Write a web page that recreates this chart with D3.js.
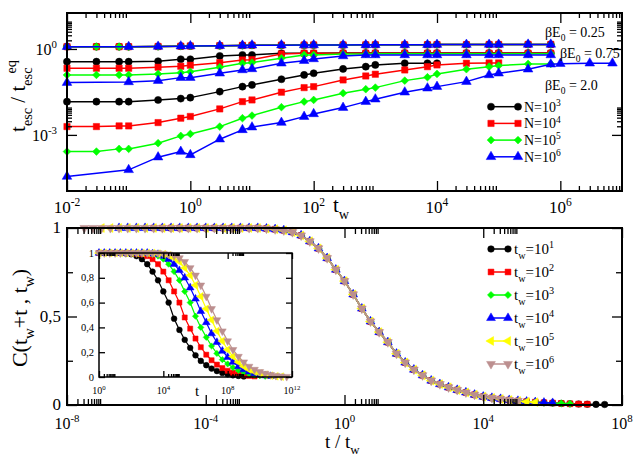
<!DOCTYPE html>
<html>
<head>
<meta charset="utf-8">
<script src="https://cdn.jsdelivr.net/npm/d3@7"></script>
<style>
  body { margin: 0; background: #fff; }
  svg { display: block; }
</style>
</head>
<body>
<svg id="chart" width="638" height="459"></svg>
<script>
// ---------- top panel: t_esc / t_esc^eq against t_w ----------
const twValues = [0.01, 0.03, 0.07, 0.1, 0.3, 0.7, 1, 3, 7, 10, 30, 70, 100, 300, 700,
  1e3, 3e3, 7e3, 1e4, 3e4, 7e4, 1e5, 3e5, 7e5, 1e6, 3e6, 7e6];

// betaE0 = 0.25
const esc025_N3 = [1.2, 1.2, 1.2, 1.2, 1.22, 1.25, 1.27, 1.3, 1.33, 1.35, 1.36, 1.37, 1.38, 1.38, 1.39, 1.4, 1.4, 1.41, 1.42, 1.42, 1.43, 1.43, 1.44, 1.44];
const esc025_N4 = [1.2, 1.2, 1.2, 1.2, 1.22, 1.25, 1.27, 1.3, 1.33, 1.35, 1.36, 1.37, 1.38, 1.38, 1.39, 1.4, 1.4, 1.41, 1.42, 1.42, 1.43, 1.43, 1.44, 1.44];
const esc025_N5 = [1.2, 1.2, 1.2, 1.2, 1.22, 1.25, 1.27, 1.3, 1.33, 1.35, 1.36, 1.37, 1.38, 1.38, 1.39, 1.4, 1.4, 1.41, 1.42, 1.42, 1.43, 1.43, 1.44, 1.44];
const esc025_N6 = [1.2, null, null, 1.2, 1.22, 1.25, 1.27, 1.3, 1.33, 1.35, 1.36, 1.37, 1.38, 1.38, 1.39, 1.4, 1.4, 1.41, 1.42, 1.42, 1.43, 1.43, 1.44, 1.44];
// betaE0 = 0.75
const esc075_N3 = [0.36, 0.36, 0.36, 0.36, 0.372, 0.437, 0.437, 0.57, 0.618, 0.618, 0.708, 0.708, 0.708, 0.72, 0.72, 0.72, 0.72, 0.72, 0.72, 0.72, 0.72, 0.72, 0.72, 0.72];
const esc075_N4 = [0.212, 0.212, 0.212, 0.212, 0.23, 0.249, 0.27, 0.333, 0.413, 0.423, 0.669, 0.708, 0.708, 0.71, 0.71, 0.71, 0.71, 0.71, 0.71, 0.71, 0.71, 0.71, 0.71, 0.71];
const esc075_N5 = [0.124, 0.124, 0.124, 0.124, 0.134, 0.149, 0.16, 0.23, 0.317, 0.333, 0.474, 0.618, 0.618, 0.669, 0.669, 0.68, 0.68, 0.68, 0.68, 0.68, 0.68, 0.68, 0.68, 0.68];
const esc075_N6 = [0.0668, null, null, 0.0706, 0.0784, 0.0998, 0.0998, 0.142, 0.185, 0.201, 0.317, 0.391, 0.448, 0.57, 0.618, 0.618, 0.618, 0.618, 0.618, 0.618, 0.618, 0.618, 0.618, 0.618];
// betaE0 = 2.0
const esc20_N3 = [0.0145, 0.0145, 0.0145, 0.0145, 0.0166, 0.0185, 0.02, 0.0324, 0.0484, 0.0555, 0.0877, 0.124, 0.142, 0.201, 0.241, 0.277, 0.317, 0.317, 0.317];
const esc20_N4 = [0.00195, 0.00195, 0.00206, 0.00206, 0.00269, 0.00383, 0.0044, 0.00808, 0.0145, 0.0166, 0.0309, 0.0447, 0.0484, 0.0829, 0.114, 0.131, 0.185, 0.241, 0.277, 0.317, 0.325, 0.325];
const esc20_N5 = [0.000262, 0.000262, 0.000325, 0.000325, 0.000514, 0.000923, 0.00108, 0.00195, 0.00383, 0.00472, 0.00926, 0.0145, 0.0166, 0.0285, 0.0393, 0.0447, 0.0784, 0.103, 0.134, 0.196, 0.241, 0.262, 0.3, 0.3];
const esc20_N6 = [0.0000352, null, null, 0.0000603, 0.000167, 0.000262, 0.000201, 0.000708, 0.0015, 0.00186, 0.00269, 0.00435, 0.00541, 0.00897, 0.0145, 0.0176, 0.0309, 0.0426, 0.0484, 0.0723, 0.124, 0.142, 0.196, 0.293, 0.307, 0.317, 0.317];

const nLabels = ['3', '4', '5', '6'];
const nColors = ['#000000', '#ff0000', '#00ff00', '#0000ff'];
const nShapes = ['circle', 'square', 'diamond', 'triangleUp'];
const betaLabels = ['0.25', '0.75', '2.0'];

const topXTickExp = [-2, 0, 2, 4, 6];
const topYTickExp = [-3, 0];

// ---------- bottom panel: C(t_w+t, t_w) against t/t_w ----------
const scaledExp = [-7.5, -7.25, -7, -6.75, -6.5, -6.25, -6, -5.75, -5.5, -5.25, -5, -4.75, -4.5, -4.25, -4, -3.75,
  -3.5, -3.25, -3, -2.75, -2.5, -2.25, -2, -1.75, -1.5, -1.25, -1, -0.75, -0.5, -0.25, 0, 0.25, 0.5, 0.75,
  1, 1.25, 1.5, 1.75, 2, 2.25, 2.5, 2.75, 3, 3.25, 3.5, 3.75, 4, 4.25, 4.5, 4.75, 5, 5.25, 5.5, 5.75,
  6, 6.25, 6.5, 6.75, 7, 7.25, 7.5];
const scaledC = [1, 1, 1, 1, 1, 1, 1, 1, 1, 1, 1, 1, 1, 1, 1, 1, 1, 1, 1, 1, 1,
  0.997, 0.993, 0.987, 0.977, 0.958, 0.925, 0.885, 0.83, 0.765, 0.70, 0.625, 0.545, 0.472, 0.412, 0.355,
  0.29, 0.24, 0.20, 0.168, 0.138, 0.118, 0.10, 0.085, 0.071, 0.058, 0.047, 0.04, 0.034, 0.028, 0.023,
  0.019, 0.016, 0.013, 0.011, 0.009, 0.007, 0.0055, 0.0045, 0.0035, 0.003];
// first / last exponent of t/t_w reached by each t_w series
const scaledFirst = [-5, -5.5, -6, -6.5, -7, -7.5];
const scaledLast = [7.5, 7, 6.5, 6, 5.5, 5];

const twLabels = ['1', '2', '3', '4', '5', '6'];
const twColors = ['#000000', '#ff0000', '#00ff00', '#0000ff', '#ffff00', '#bc8f8f'];
const twShapes = ['circle', 'square', 'diamond', 'triangleUp', 'triangleLeft', 'triangleDown'];

const mainXTickExp = [-8, -4, 0, 4, 8];
const mainYTicks = [0, 0.5, 1];
const mainYTickLabels = ['0', '0,5', '1'];

// ---------- inset: C(t_w+t, t_w) against t ----------
const insetExp = [0, 0.33, 0.67, 1, 1.33, 1.67, 2, 2.33, 2.67, 3, 3.33, 3.67, 4, 4.33, 4.67, 5, 5.33, 5.67,
  6, 6.33, 6.67, 7, 7.33, 7.67, 8, 8.33, 8.67, 9, 9.33, 9.67, 10, 10.33, 10.67, 11, 11.33, 11.67, 12];
const insetTw1 = [1, 1, 1, 1, 1, 0.995, 0.99, 0.975, 0.95, 0.91, 0.85, 0.78, 0.69, 0.6, 0.47, 0.38, 0.3, 0.235, 0.175, 0.13, 0.095, 0.068, 0.048, 0.033, 0.022, 0.014, 0.009, 0.005];
const insetTw2 = [1, 1, 1, 1, 1, 1, 1, 0.995, 0.99, 0.975, 0.95, 0.91, 0.85, 0.78, 0.69, 0.6, 0.48, 0.39, 0.31, 0.24, 0.18, 0.135, 0.1, 0.072, 0.05, 0.035, 0.023, 0.015, 0.009, 0.005];
const insetTw3 = [1, 1, 1, 1, 1, 1, 1, 1, 1, 0.995, 0.99, 0.975, 0.95, 0.91, 0.85, 0.78, 0.69, 0.6, 0.49, 0.4, 0.32, 0.25, 0.19, 0.14, 0.105, 0.076, 0.053, 0.037, 0.025, 0.016, 0.01, 0.006];
const insetTw4 = [1, 1, 1, 1, 1, 1, 1, 1, 1, 1, 0.995, 0.99, 0.975, 0.95, 0.91, 0.86, 0.8, 0.72, 0.63, 0.53, 0.44, 0.35, 0.28, 0.21, 0.16, 0.12, 0.085, 0.06, 0.042, 0.028, 0.018, 0.011, 0.006];
const insetTw5 = [1, 1, 1, 1, 1, 1, 1, 1, 1, 1, 1, 0.995, 0.99, 0.98, 0.96, 0.93, 0.88, 0.82, 0.74, 0.65, 0.55, 0.46, 0.37, 0.29, 0.22, 0.165, 0.12, 0.085, 0.06, 0.042, 0.028, 0.018, 0.011, 0.006, 0.003];
const insetTw6 = [1, 1, 1, 1, 1, 1, 1, 1, 1, 1, 1, 1, 0.995, 0.99, 0.98, 0.96, 0.93, 0.88, 0.82, 0.74, 0.65, 0.55, 0.46, 0.37, 0.29, 0.22, 0.165, 0.12, 0.085, 0.06, 0.042, 0.028, 0.018, 0.011, 0.006, 0.003];

const insetXTickExp = [0, 4, 8, 12];
const insetYTicks = [0, 0.2, 0.4, 0.6, 0.8, 1];
const insetYTickLabels = ['0', '0,2', '0,4', '0,6', '0,8', '1'];

// ---------- helpers ----------
const FONT = '"Liberation Serif", "Times New Roman", "DejaVu Serif", serif';
const svg = d3.select('#chart');

const markerRot = { circle: 0, square: 0, diamond: 45, triangleUp: 0, triangleLeft: -90, triangleDown: 180 };
function markerD(shape, size) {
  let type = d3.symbolCircle;
  if (shape === 'square' || shape === 'diamond') type = d3.symbolSquare;
  if (shape.startsWith('triangle')) type = d3.symbolTriangle;
  return d3.symbol(type, shape === 'diamond' ? size * 0.75 : size)();
}

function drawMarker(g, x, y, shape, size, color) {
  g.append('path')
    .attr('d', markerD(shape, size))
    .attr('transform', `translate(${x},${y}) rotate(${markerRot[shape]})`)
    .attr('fill', color)
    .attr('stroke', color)
    .attr('stroke-width', 0.5);
}

function drawSeries(g, pts, xScale, yScale, color, shape, size, lw) {
  g.append('path')
    .datum(pts)
    .attr('fill', 'none')
    .attr('stroke', color)
    .attr('stroke-width', lw)
    .attr('d', d3.line().x(d => xScale(d[0])).y(d => yScale(d[1])));
  pts.forEach(d => drawMarker(g, xScale(d[0]), yScale(d[1]), shape, size, color));
}

// text with sub/superscript parts
function richText(parent, x, y, parts, size, anchor) {
  const t = parent.append('text')
    .attr('x', x).attr('y', y)
    .attr('font-family', FONT)
    .attr('font-size', size)
    .attr('text-anchor', anchor || 'start')
    .attr('fill', '#000');
  let shift = 0;
  parts.forEach(p => {
    const s = t.append('tspan').text(p.text);
    let target = 0;
    if (p.sup) target = -size * 0.42;
    if (p.sub) target = size * 0.32;
    s.attr('dy', target - shift);
    if (p.sup || p.sub) s.attr('font-size', size * 0.68);
    if (p.dx) s.attr('dx', p.dx);
    shift = target;
  });
  return t;
}

// inward ticks on all four sides
function frameTicks(g, xScale, yScale, xMajor, xMinor, yMajor, yMinor, majLen, minLen, frameW) {
  const [x0, x1] = xScale.range();
  const [y0, y1] = yScale.range();
  const sides = [
    [d3.axisBottom, xScale, `translate(0,${y0})`, xMajor, xMinor],
    [d3.axisTop, xScale, `translate(0,${y1})`, xMajor, xMinor],
    [d3.axisLeft, yScale, `translate(${x0},0)`, yMajor, yMinor],
    [d3.axisRight, yScale, `translate(${x1},0)`, yMajor, yMinor]
  ];
  sides.forEach(([axis, scale, tr, major, minor]) => {
    [[major, majLen], [minor, minLen]].forEach(([vals, len]) => {
      g.append('g')
        .attr('transform', tr)
        .call(axis(scale).tickValues(vals).tickSize(-len).tickSizeOuter(0).tickFormat(''))
        .call(a => a.select('.domain').remove())
        .call(a => a.selectAll('line').attr('stroke', '#000').attr('stroke-width', 1.3));
    });
  });
  g.append('rect')
    .attr('x', x0).attr('y', y1)
    .attr('width', x1 - x0).attr('height', y0 - y1)
    .attr('fill', 'none').attr('stroke', '#000').attr('stroke-width', frameW);
}

function logMinors(majorExps, domain) {
  const out = [];
  majorExps.forEach(e => {
    for (let k = 2; k <= 9; k++) {
      const v = k * Math.pow(10, e);
      if (v > domain[0] && v < domain[1]) out.push(v);
    }
  });
  return out;
}

// ---------- top panel ----------
const xTop = d3.scaleLog().domain([1e-2, 1e7]).range([67, 622]);
const yTop = d3.scaleLog().domain([1.1e-5, 18]).range([191, 13]);
const topPanel = svg.append('g');

const topGroups = [
  [esc20_N3, esc20_N4, esc20_N5, esc20_N6],
  [esc075_N3, esc075_N4, esc075_N5, esc075_N6],
  [esc025_N3, esc025_N4, esc025_N5, esc025_N6]
];
topGroups.forEach(group => {
  group.forEach((vals, i) => {
    const pts = twValues.map((t, j) => [t, vals[j]]).filter(d => d[1] != null);
    drawSeries(topPanel, pts, xTop, yTop, nColors[i], nShapes[i], 40, 1.5);
  });
});

frameTicks(topPanel, xTop, yTop,
  topXTickExp.map(e => Math.pow(10, e)), logMinors(topXTickExp, xTop.domain()),
  topYTickExp.map(e => Math.pow(10, e)), logMinors([-6, -3, 0], yTop.domain()), 10, 5, 2);

topXTickExp.forEach(e => {
  richText(topPanel, xTop(Math.pow(10, e)), 213, [{ text: '10' }, { text: String(e), sup: true }], 17, 'middle');
});
topYTickExp.forEach(e => {
  richText(topPanel, 57, yTop(Math.pow(10, e)) + 6, [{ text: '10' }, { text: String(e), sup: true }], 16, 'end');
});
richText(topPanel, 333, 212, [{ text: 't' }, { text: 'w', sub: true }], 21);

const yl = richText(topPanel, 0, 0, [{ text: 't' }, { text: 'esc', sub: true }, { text: ' / t' },
  { text: 'esc', sub: true }, { text: 'eq', sup: true, dx: -6 }], 21, 'middle');
yl.attr('transform', 'translate(25,96) rotate(-90)');

// betaE0 annotations
const betaPos = [[545, 37], [560, 58], [545, 90]];
betaLabels.forEach((b, i) => {
  richText(topPanel, betaPos[i][0], betaPos[i][1],
    [{ text: '\u03b2E' }, { text: '0', sub: true }, { text: ' = ' + b }], 14);
});

// legend N
nLabels.forEach((n, i) => {
  const y = 106.7 + i * 16.7;
  topPanel.append('line').attr('x1', 491).attr('x2', 518).attr('y1', y).attr('y2', y)
    .attr('stroke', nColors[i]).attr('stroke-width', 1.5);
  drawMarker(topPanel, 491, y, nShapes[i], 40, nColors[i]);
  drawMarker(topPanel, 518, y, nShapes[i], 40, nColors[i]);
  richText(topPanel, 524, y + 5, [{ text: 'N=10' }, { text: n, sup: true }], 14);
});

// ---------- bottom panel ----------
const xMain = d3.scaleLog().domain([1e-8, 1e8]).range([67, 622]);
const yMain = d3.scaleLinear().domain([0, 1]).range([405, 228]);
const bottomPanel = svg.append('g');

twLabels.forEach((lab, i) => {
  const pts = scaledExp
    .map((e, j) => [e, scaledC[j]])
    .filter(d => d[0] >= scaledFirst[i] && d[0] <= scaledLast[i])
    .map(d => [Math.pow(10, d[0]), d[1]]);
  drawSeries(bottomPanel, pts, xMain, yMain, twColors[i], twShapes[i], 34, 1.5);
});

frameTicks(bottomPanel, xMain, yMain,
  mainXTickExp.map(e => Math.pow(10, e)), logMinors(mainXTickExp, xMain.domain()),
  mainYTicks, [0.25, 0.75], 10, 6, 2);

mainXTickExp.forEach(e => {
  richText(bottomPanel, xMain(Math.pow(10, e)), 429, [{ text: '10' }, { text: String(e), sup: true }], 16, 'middle');
});
mainYTicks.forEach((v, i) => {
  richText(bottomPanel, 61, yMain(v) + 5, [{ text: mainYTickLabels[i] }], 17, 'end');
});
richText(bottomPanel, 325, 448, [{ text: 't / t' }, { text: 'w', sub: true }], 19);
const cl = richText(bottomPanel, 0, 0, [{ text: 'C(t' }, { text: 'w', sub: true }, { text: '+t , t' },
  { text: 'w', sub: true }, { text: ')' }], 22, 'middle');
cl.attr('transform', 'translate(27,318) rotate(-90)');

// legend t_w
twLabels.forEach((lab, i) => {
  const y = 249 + i * 23;
  bottomPanel.append('line').attr('x1', 491).attr('x2', 508).attr('y1', y).attr('y2', y)
    .attr('stroke', twColors[i]).attr('stroke-width', 1.5);
  drawMarker(bottomPanel, 491, y, twShapes[i], 34, twColors[i]);
  drawMarker(bottomPanel, 508, y, twShapes[i], 34, twColors[i]);
  richText(bottomPanel, 514, y + 5, [{ text: 't' }, { text: 'w', sub: true }, { text: '=10' }, { text: lab, sup: true }], 15);
});

// ---------- inset ----------
const xIn = d3.scaleLog().domain([1, 1e12]).range([99, 292]);
const yIn = d3.scaleLinear().domain([0, 1]).range([377, 253]);
const insetPanel = svg.append('g');
insetPanel.append('rect').attr('x', 99).attr('y', 253).attr('width', 193).attr('height', 124).attr('fill', '#fff');

[insetTw1, insetTw2, insetTw3, insetTw4, insetTw5, insetTw6].forEach((vals, i) => {
  const pts = insetExp.map((e, j) => [Math.pow(10, e), vals[j]]).filter(d => d[1] != null);
  drawSeries(insetPanel, pts, xIn, yIn, twColors[i], twShapes[i], 26, 1.2);
});

frameTicks(insetPanel, xIn, yIn,
  insetXTickExp.map(e => Math.pow(10, e)), logMinors(insetXTickExp, xIn.domain()),
  insetYTicks, [], 6, 3, 1.5);

insetXTickExp.forEach(e => {
  richText(insetPanel, xIn(Math.pow(10, e)), 394, [{ text: '10' }, { text: String(e), sup: true }], 10, 'middle');
});
insetYTicks.forEach((v, i) => {
  richText(insetPanel, 94, yIn(v) + 3.5, [{ text: insetYTickLabels[i] }], 10.5, 'end');
});
richText(insetPanel, 195, 396, [{ text: 't' }], 15);
</script>
</body>
</html>
